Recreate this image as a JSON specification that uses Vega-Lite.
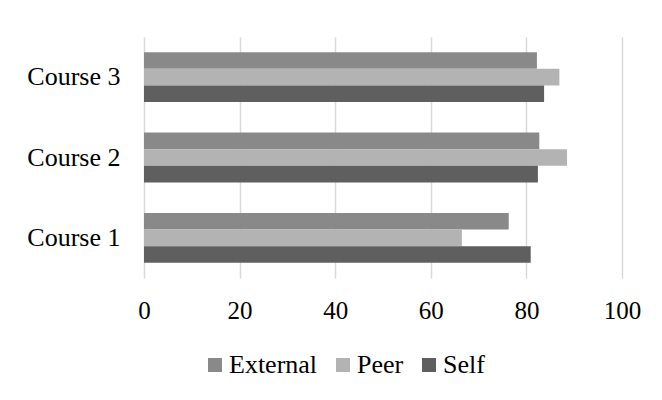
{
  "$schema": "https://vega.github.io/schema/vega-lite/v6.json",
  "width": 478,
  "height": 241,
  "autosize": "none",
  "padding": {"left": 144, "top": 37, "right": 40, "bottom": 122},
  "background": "white",
  "config": {
    "view": {"stroke": null},
    "font": "Liberation Serif"
  },
  "data": {
    "values": [
      {"course": "Course 1", "rater": "External", "score": 76.3},
      {"course": "Course 1", "rater": "Peer", "score": 66.5},
      {"course": "Course 1", "rater": "Self", "score": 80.9},
      {"course": "Course 2", "rater": "External", "score": 82.7},
      {"course": "Course 2", "rater": "Peer", "score": 88.5},
      {"course": "Course 2", "rater": "Self", "score": 82.4},
      {"course": "Course 3", "rater": "External", "score": 82.2},
      {"course": "Course 3", "rater": "Peer", "score": 86.9},
      {"course": "Course 3", "rater": "Self", "score": 83.7}
    ]
  },
  "mark": {"type": "bar"},
  "encoding": {
    "y": {
      "field": "course",
      "type": "nominal",
      "sort": ["Course 3", "Course 2", "Course 1"],
      "scale": {"paddingInner": 0.38, "paddingOuter": 0.19},
      "axis": {
        "title": null,
        "domain": false,
        "ticks": false,
        "labelPadding": 24,
        "labelFontSize": 26,
        "labelFont": "Liberation Serif",
        "labelColor": "#000000"
      }
    },
    "yOffset": {
      "field": "rater",
      "type": "nominal",
      "sort": ["External", "Peer", "Self"]
    },
    "x": {
      "field": "score",
      "type": "quantitative",
      "scale": {"domain": [0, 100]},
      "axis": {
        "values": [0, 20, 40, 60, 80, 100],
        "title": null,
        "domain": false,
        "ticks": false,
        "grid": true,
        "gridColor": "#d9d9d9",
        "gridWidth": 1.5,
        "labelFlush": false,
        "labelPadding": 20,
        "labelFontSize": 25,
        "labelFont": "Liberation Serif",
        "labelColor": "#000000"
      }
    },
    "color": {
      "field": "rater",
      "type": "nominal",
      "sort": ["External", "Peer", "Self"],
      "scale": {
        "domain": ["External", "Peer", "Self"],
        "range": ["#898989", "#b3b3b3", "#5f5f5f"]
      },
      "legend": {
        "title": null,
        "orient": "none",
        "direction": "horizontal",
        "legendX": 58,
        "legendY": 315,
        "symbolType": "square",
        "symbolSize": 196,
        "symbolStrokeWidth": 0,
        "labelFontSize": 26,
        "labelFont": "Liberation Serif",
        "labelColor": "#000000",
        "labelOffset": 1,
        "columnPadding": 12
      }
    }
  }
}
